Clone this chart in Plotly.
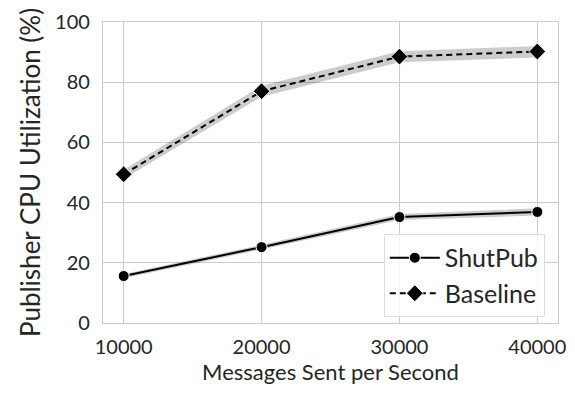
import plotly.graph_objects as go

rates = [10000, 20000, 30000, 40000]
shutpub = [15.6, 25.2, 35.2, 36.9]
shutpub_lo = [14.9, 24.4, 34.2, 35.7]
shutpub_hi = [16.3, 26.0, 36.2, 38.1]
baseline = [49.4, 77.0, 88.5, 90.2]
baseline_lo = [47.9, 75.2, 86.6, 88.2]
baseline_hi = [50.9, 78.8, 90.3, 92.0]
x_ticks = [10000, 20000, 30000, 40000]
y_ticks = [0, 20, 40, 60, 80, 100]

FONT = "Lato"
TXT = "#262626"
fig = go.Figure()

def band(lo, hi):
    fig.add_trace(go.Scatter(x=rates, y=hi, mode="lines", line=dict(width=0),
                             showlegend=False, hoverinfo="skip"))
    fig.add_trace(go.Scatter(x=rates, y=lo, mode="lines", line=dict(width=0),
                             fill="tonexty", fillcolor="rgba(0,0,0,0.2)",
                             showlegend=False, hoverinfo="skip"))

band(shutpub_lo, shutpub_hi)
band(baseline_lo, baseline_hi)

fig.add_trace(go.Scatter(x=rates, y=shutpub, mode="lines+markers", name="ShutPub",
                         legendgroup="a",
                         line=dict(color="black", width=2),
                         marker=dict(symbol="circle", size=11, color="black",
                                     line=dict(color="white", width=1))))
fig.add_trace(go.Scatter(x=rates, y=baseline, mode="lines+markers", name="Baseline",
                         legendgroup="b",
                         line=dict(color="black", width=2, dash="6px,4px"),
                         marker=dict(symbol="diamond", size=13, color="black",
                                     line=dict(color="white", width=1))))

axis_common = dict(showgrid=True, gridcolor="#cccccc", gridwidth=1.3,
                   showline=True, linecolor="#cccccc", linewidth=1.3, mirror=True,
                   ticks="", zeroline=False, automargin=False,
                   tickfont=dict(family=FONT, size=20, color=TXT))

fig.update_xaxes(range=[8500, 41500], tickvals=x_ticks, ticktext=[str(v) for v in x_ticks],
                 ticklabelstandoff=6,
                 title=dict(text="Messages Sent per Second", standoff=2,
                            font=dict(family=FONT, size=22, color=TXT)),
                 **axis_common)
fig.update_yaxes(range=[0, 100], tickvals=y_ticks, ticklabelstandoff=8,
                 title=dict(text="Publisher CPU Utilization (%)", standoff=6,
                            font=dict(family=FONT, size=26, color=TXT)),
                 **axis_common)

fig.update_layout(
    width=575, height=394,
    margin=dict(l=103, r=17, t=22, b=71),
    plot_bgcolor="white", paper_bgcolor="white",
    font=dict(family=FONT, size=20, color=TXT),
    legend=dict(x=0.971, y=0.02, xanchor="right", yanchor="bottom", traceorder="normal",
                tracegroupgap=2, itemwidth=50,
                bgcolor="rgba(255,255,255,0.8)", bordercolor="#dddddd", borderwidth=1,
                font=dict(family=FONT, size=25, color=TXT)),
)

fig.write_html("out.html", config={"displayModeBar": False},
               post_script="document.body.style.margin='0px';")
